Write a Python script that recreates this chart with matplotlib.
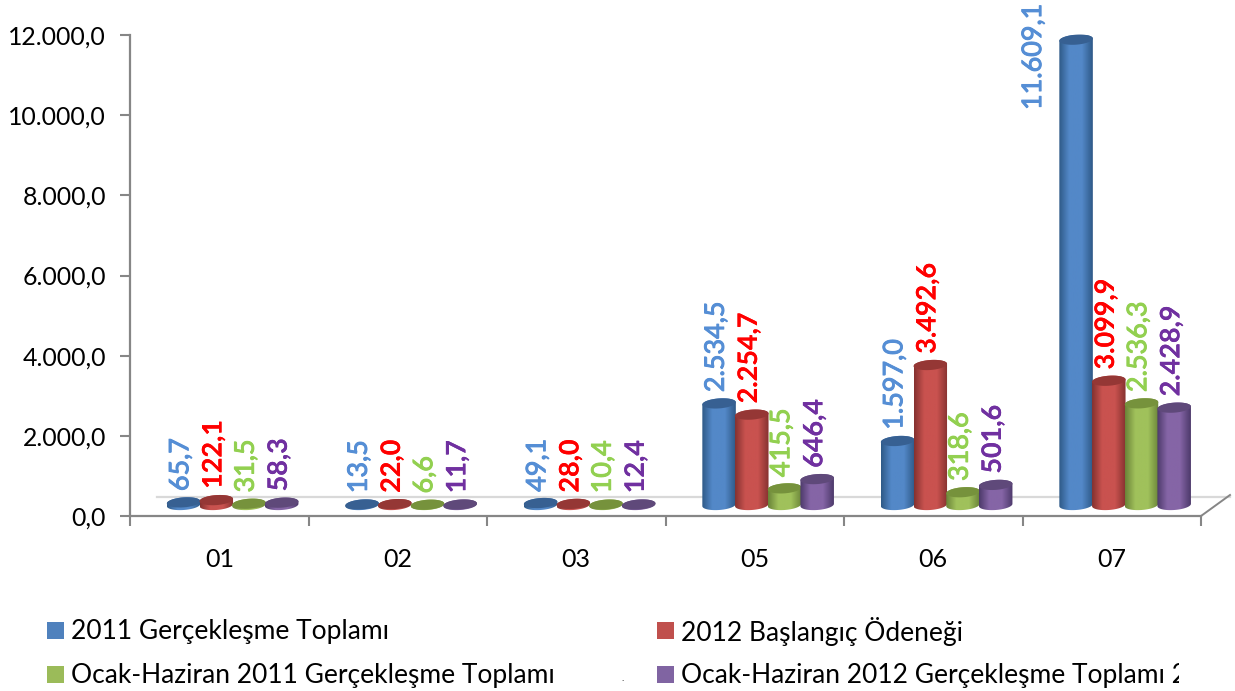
# -*- coding: utf-8 -*-
import numpy as np
import matplotlib.pyplot as plt
import matplotlib.patheffects as pe
from matplotlib.patches import Polygon, Rectangle
from matplotlib.colors import LinearSegmentedColormap

plt.rcParams['font.family'] = ['Lato', 'DejaVu Sans']

# data
categories = ["01", "02", "03", "05", "06", "07"]
series_names = ["2011 Gerçekleşme Toplamı", "2012 Başlangıç Ödeneği",
                "Ocak-Haziran 2011 Gerçekleşme Toplamı",
                "Ocak-Haziran 2012 Gerçekleşme Toplamı 2"]
vals_2011 = [65.7, 13.5, 49.1, 2534.5, 1597.0, 11609.1]
vals_2012 = [122.1, 22.0, 28.0, 2254.7, 3492.6, 3099.9]
vals_h2011 = [31.5, 6.6, 10.4, 415.5, 318.6, 2536.3]
vals_h2012 = [58.3, 11.7, 12.4, 646.4, 501.6, 2428.9]
yticks = [0, 2000, 4000, 6000, 8000, 10000, 12000]

series = [vals_2011, vals_2012, vals_h2011, vals_h2012]
label_cols = ["#558ed5", "#ff0000", "#92d050", "#7030a0"]
label_weight = ["normal", "bold", "normal", "bold"]
label_stroke = [0.7, 0, 0.7, 0]   # the regular labels look a bit heavier in the original
edge_cols = ["#2f5a88", "#863230", "#6b8439", "#4d3a6b"]
mid_cols = ["#5388c8", "#c9524f", "#a0c15b", "#8565a6"]
top_cols = ["#376092", "#953735", "#76923c", "#5f497a"]
legend_cols = ["#4f81bd", "#c0504d", "#9bbb59", "#8064a2"]


def fmt(v, dec=1):
    # turkish number format
    s = f"{v:,.{dec}f}"
    return s.replace(",", "X").replace(".", ",").replace("X", ".")


W, H = 1235, 691
fig = plt.figure(figsize=(W / 100, H / 100), dpi=100)
ax = fig.add_axes([130 / W, (H - 516) / H, 1071 / W, 481 / H])
ax.set_facecolor("none")

px_x = 6 / 1071      # x data units per pixel
px_y = 12000 / 481   # y data units per pixel
bar_w = 33.5 * px_x
base = 11 * px_y     # bars stand on the floor, above the axis line
rx, ry = bar_w / 2, 5 * px_y
shear = 0.07 * 16.5 * px_y

t = np.linspace(0, 2 * np.pi, 80)
for i, vals in enumerate(series):
    cmap = LinearSegmentedColormap.from_list(
        "c", [(0, edge_cols[i]), (0.3, mid_cols[i]), (0.68, mid_cols[i]), (1, edge_cols[i])])
    grad = np.linspace(0, 1, 60).reshape(1, -1)
    effects = [pe.withStroke(linewidth=label_stroke[i], foreground=label_cols[i])]
    for j, v in enumerate(vals):
        xc = j + 0.5 + 0.075 + (i - 1.5) * 32.7 * px_x
        top = base + v
        # body: the lower half of the bottom ellipse, up to the top ellipse
        lo = np.linspace(np.pi, 2 * np.pi, 30)
        hi = np.linspace(0, np.pi, 30)
        xs = np.r_[xc + rx * np.cos(lo), xc + rx * np.cos(hi)]
        ys = np.r_[base + ry * np.sin(lo) + shear * np.cos(lo),
                   top + ry * np.sin(hi) + shear * np.cos(hi)]
        body = Polygon(np.c_[xs, ys], closed=True, fc="none", ec="none",
                       transform=ax.transData, zorder=3 + i)
        ax.add_patch(body)
        im = ax.imshow(grad, cmap=cmap, extent=[xc - rx, xc + rx, base - 2 * ry, top + 2 * ry],
                       aspect="auto", zorder=3 + i)
        im.set_clip_path(body)
        ax.add_patch(Polygon(np.c_[xc + rx * np.cos(t),
                                   top + ry * np.sin(t) + shear * np.cos(t)],
                             closed=True, fc=top_cols[i], ec="none", zorder=3 + i,
                             clip_on=False))
        # value labels sit above the bars, except the tall one that runs out of room
        if v > 10000:
            ax.text(xc - 42.5 * px_x, 406 * px_y, fmt(v), rotation=90, ha="center", va="bottom",
                    color=label_cols[i], fontsize=19.4, fontweight=label_weight[i],
                    clip_on=False, zorder=10, path_effects=effects)
        else:
            ax.annotate(fmt(v), (xc, top + ry), xytext=(-2, 4.5),
                        textcoords="offset points", rotation=90, ha="center", va="bottom",
                        color=label_cols[i], fontsize=19.4, fontweight=label_weight[i],
                        annotation_clip=False, zorder=10, path_effects=effects)

ax.set_xlim(0, 6)
ax.set_ylim(0, 12000)

for s in ["top", "right"]:
    ax.spines[s].set_visible(False)
for s in ["left", "bottom"]:
    ax.spines[s].set_color("#868686")
    ax.spines[s].set_linewidth(1.6)

ax.set_yticks(yticks)
ax.set_yticklabels([fmt(v) for v in yticks], fontsize=17.9)
ax.tick_params(axis="y", length=7.2, width=1.5, color="#868686", pad=10)
ax.set_xticks(range(7))
ax.set_xticklabels([])
ax.set_xticks(np.arange(6) + 0.5, minor=True)
ax.set_xticklabels(categories, minor=True, fontsize=18)
ax.tick_params(axis="x", which="major", length=7.2, width=1.5, color="#868686")
ax.tick_params(axis="x", which="minor", length=0, pad=23)

# chart floor: back edge and the right side in perspective
fig.add_artist(plt.Line2D([157 / W, 1230 / W], [(H - 497) / H] * 2, color="#d9d9d9", lw=1.6, zorder=0))
fig.add_artist(plt.Line2D([1201 / W, 1230 / W], [(H - 516) / H, (H - 495) / H], color="#868686", lw=1.4))

# legend, written out by hand because the last entry is cut by the frame
leg_x = [47, 657, 47, 657]
leg_y = [631, 631, 675, 675]
for i, name in enumerate(series_names):
    fig.add_artist(Rectangle((leg_x[i] / W, (H - leg_y[i] - 8) / H), 17 / W, 17 / H,
                             transform=fig.transFigure, fc=legend_cols[i], ec="none"))
    txt = fig.text((leg_x[i] + 24) / W, (H - leg_y[i]) / H, name, fontsize=19, va="center",
                   color="black")
    txt.set_clip_path(Rectangle((0, 0), 1179, H, transform=None))
fig.text(621 / W, (H - 681) / H, ".", fontsize=7, color="black")

fig.savefig("out.png", dpi=100)
